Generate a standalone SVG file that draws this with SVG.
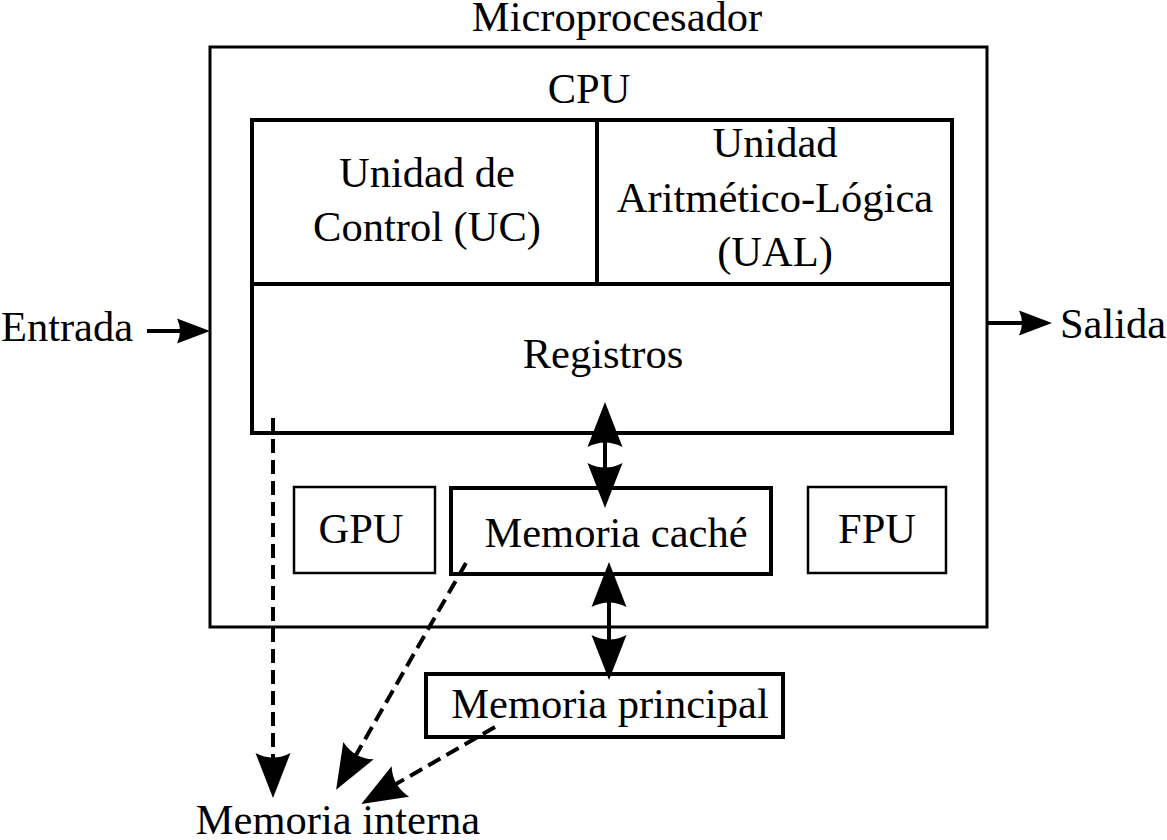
<svg xmlns="http://www.w3.org/2000/svg" width="1167" height="840" viewBox="0 0 1167 840">
<defs>
<style>
text{font-family:"Liberation Serif","Times New Roman",serif;font-size:42.5px;fill:#000;text-anchor:middle}
.box{fill:none;stroke:#000}
.conn{fill:none;stroke:#000;stroke-width:4}
.dash{fill:none;stroke:#000;stroke-width:4;stroke-dasharray:14 7}
</style>
<marker id="big" markerUnits="userSpaceOnUse" markerWidth="60" markerHeight="60" viewBox="-10 -20 60 40" refX="0" refY="0" orient="auto-start-reverse" overflow="visible">
<path d="M40,0 L-5,-17.5 Q4,0 -5,17.5 Z" fill="#000"/>
</marker>
<marker id="small" markerUnits="userSpaceOnUse" markerWidth="40" markerHeight="40" viewBox="-10 -15 40 30" refX="0" refY="0" orient="auto" overflow="visible">
<path d="M30,0 L-3,-12.5 Q3,0 -3,12.5 Z" fill="#000"/>
</marker>
</defs>
<rect width="1167" height="840" fill="#fff"/>

<g id="microprocesador">
<rect class="box" x="210" y="47" width="777" height="580" stroke-width="3"/>
<text x="617" y="31">Microprocesador</text>
</g>

<g id="cpu">
<text x="589" y="103">CPU</text>
<rect class="box" x="252" y="120" width="700" height="313" stroke-width="4"/>
</g>

<g id="uc">
<line x1="252" y1="284" x2="952" y2="284" stroke="#000" stroke-width="4"/>
<line x1="597" y1="120" x2="597" y2="284" stroke="#000" stroke-width="4"/>
<text x="427" y="187">Unidad de</text>
<text x="427" y="241">Control (UC)</text>
</g>

<g id="ual">
<text x="775" y="157">Unidad</text>
<text x="775" y="212">Aritmético-Lógica</text>
<text x="775" y="266">(UAL)</text>
</g>

<g id="registros">
<text x="603" y="368">Registros</text>
</g>

<g id="gpu">
<rect class="box" x="294" y="487" width="141" height="86" stroke-width="2.5"/>
<text x="361" y="543">GPU</text>
</g>

<g id="cache">
<rect class="box" x="451" y="488" width="320" height="86" stroke-width="4"/>
<text x="616" y="547">Memoria caché</text>
</g>

<g id="fpu">
<rect class="box" x="808" y="487" width="138" height="86" stroke-width="2.5"/>
<text x="877" y="543">FPU</text>
</g>

<g id="principal">
<rect class="box" x="426" y="674" width="357" height="63" stroke-width="4"/>
<text x="610" y="718">Memoria principal</text>
</g>

<g id="entrada">
<text x="67" y="341">Entrada</text>
</g>

<g id="salida">
<text x="1113" y="338">Salida</text>
</g>

<g id="interna">
<text x="338" y="834">Memoria interna</text>
</g>

<g id="connectors">
<line class="conn" x1="147" y1="331" x2="180" y2="331" stroke-width="3" marker-end="url(#small)"/>
<line class="conn" x1="988" y1="323" x2="1022" y2="323" stroke-width="3" marker-end="url(#small)"/>
<line class="conn" x1="605" y1="442" x2="605" y2="468" marker-start="url(#big)" marker-end="url(#big)"/>
<line class="conn" x1="609" y1="602" x2="609" y2="640" marker-start="url(#big)" marker-end="url(#big)"/>
<line class="dash" x1="273" y1="418" x2="273" y2="758" marker-end="url(#big)"/>
<line class="dash" x1="466" y1="563" x2="356" y2="755" marker-end="url(#big)"/>
<line class="dash" x1="495" y1="727" x2="396" y2="784" marker-end="url(#big)"/>
</g>
</svg>
